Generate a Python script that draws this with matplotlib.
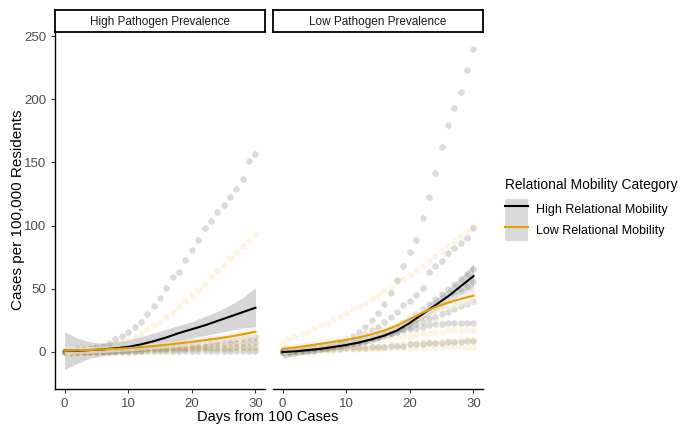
import matplotlib
matplotlib.use("Agg")
import matplotlib.pyplot as plt
from matplotlib.lines import Line2D
from matplotlib.patches import Patch
from matplotlib.legend_handler import HandlerTuple

plt.rcParams["font.family"] = ["Liberation Sans", "DejaVu Sans"]

DAYS = list(range(31))
SMOOTH_DAYS = list(range(0, 31, 2))

PANELS = ["High Pathogen Prevalence", "Low Pathogen Prevalence"]
CATEGORIES = ["High Relational Mobility", "Low Relational Mobility"]

# --- High pathogen panel, per-region cases per 100k ---
high_path_high_mob = [
    [1, 1, 2, 2, 3, 4, 5, 7, 10, 13, 16, 20, 24, 30, 36, 43, 51, 59, 63, 73, 81, 89, 98, 104, 111, 116, 123, 129, 137, 151, 157],
    [0, 0, 0, 1, 1, 1, 1, 2, 2, 2, 3, 3, 3, 4, 4, 5, 5, 6, 6, 7, 7, 8, 8, 9, 9, 10, 10, 11, 11, 12, 12],
    [0, 0, 0, 0, 1, 1, 1, 1, 1, 2, 2, 2, 2, 3, 3, 3, 3, 4, 4, 4, 5, 5, 5, 6, 6, 6, 7, 7, 7, 8, 8],
    [0, 0, 0, 0, 0, 0, 1, 1, 1, 1, 1, 1, 1, 2, 2, 2, 2, 2, 2, 2, 3, 3, 3, 3, 3, 3, 3, 4, 4, 4, 4],
    [0, 0, 0, 0, 0, 0, 0, 0, 0, 0, 0, 0, 1, 1, 1, 1, 1, 1, 1, 1, 1, 1, 1, 1, 1, 1, 1, 1, 1, 1, 1],
]
high_path_low_mob = [
    [0, 1, 1, 2, 2, 3, 4, 5, 6, 8, 10, 12, 15, 18, 21, 24, 28, 32, 36, 40, 44, 49, 54, 59, 64, 69, 74, 79, 84, 89, 93],
    [0, 0, 1, 1, 1, 1, 2, 2, 2, 3, 3, 4, 4, 5, 5, 6, 6, 7, 7, 8, 8, 9, 10, 10, 11, 12, 12, 13, 14, 14, 15],
    [0, 0, 0, 1, 1, 1, 1, 1, 2, 2, 2, 2, 3, 3, 3, 4, 4, 4, 5, 5, 5, 6, 6, 7, 7, 8, 8, 9, 9, 10, 10],
    [0, 0, 0, 0, 0, 1, 1, 1, 1, 1, 1, 2, 2, 2, 2, 2, 3, 3, 3, 3, 3, 4, 4, 4, 4, 5, 5, 5, 5, 6, 6],
    [0, 0, 0, 0, 0, 0, 0, 0, 0, 1, 1, 1, 1, 1, 1, 1, 1, 1, 1, 2, 2, 2, 2, 2, 2, 2, 2, 2, 2, 2, 2],
]

# --- Low pathogen panel ---
low_path_high_mob = [
    [0, 1, 1, 2, 2, 3, 4, 5, 6, 8, 10, 13, 16, 20, 25, 31, 38, 47, 57, 68, 79, 89, 106, 123, 142, 162, 180, 193, 206, 223, 240],
    [1, 1, 2, 2, 3, 3, 4, 5, 6, 7, 8, 10, 12, 14, 17, 20, 24, 28, 32, 37, 40, 45, 51, 63, 68, 72, 78, 82, 86, 90, 98],
    [0, 1, 1, 2, 2, 3, 3, 4, 5, 6, 7, 8, 9, 10, 12, 13, 15, 17, 19, 21, 24, 27, 30, 33, 36, 39, 42, 45, 48, 52, 55],
    [0, 0, 1, 1, 2, 2, 3, 3, 4, 5, 6, 7, 8, 9, 11, 13, 15, 17, 20, 23, 26, 30, 34, 38, 42, 46, 50, 54, 58, 62, 66],
    [1, 1, 2, 2, 3, 3, 4, 5, 5, 6, 7, 8, 9, 10, 11, 12, 14, 15, 17, 18, 20, 22, 24, 26, 28, 30, 32, 34, 36, 38, 40],
    [1, 1, 2, 2, 3, 3, 4, 5, 6, 7, 8, 9, 10, 11, 12, 13, 14, 15, 16, 17, 18, 19, 20, 21, 22, 22, 23, 23, 23, 23, 23],
    [0, 0, 1, 1, 1, 1, 2, 2, 2, 2, 3, 3, 3, 3, 4, 4, 4, 5, 5, 5, 6, 6, 6, 7, 7, 7, 8, 8, 8, 9, 9],
]
low_path_low_mob = [
    [8, 10, 12, 14, 16, 19, 21, 23, 26, 28, 31, 34, 36, 39, 42, 45, 48, 51, 55, 58, 61, 65, 68, 72, 76, 80, 84, 88, 92, 96, 100],
    [2, 3, 3, 4, 5, 5, 6, 7, 8, 9, 10, 11, 12, 13, 14, 16, 17, 19, 20, 22, 24, 26, 28, 30, 32, 34, 36, 39, 41, 44, 47],
    [1, 2, 2, 3, 3, 4, 4, 5, 5, 6, 7, 7, 8, 9, 9, 10, 11, 11, 12, 13, 13, 14, 15, 15, 16, 16, 17, 17, 17, 17, 17],
    [0, 1, 1, 1, 2, 2, 2, 3, 3, 3, 4, 4, 4, 5, 5, 5, 6, 6, 6, 7, 7, 7, 8, 8, 8, 9, 9, 9, 10, 10, 10],
    [0, 0, 0, 1, 1, 1, 1, 1, 1, 2, 2, 2, 2, 2, 2, 2, 3, 3, 3, 3, 3, 3, 3, 4, 4, 4, 4, 4, 4, 4, 4],
]

# --- loess fits (read at every second day) ---
hp_high_fit = [1, 1, 1.5, 2, 3, 4, 6, 8.5, 11.5, 15, 18, 21, 24.5, 28, 31.5, 35]
hp_high_lo = [-14, -9, -5, -3, -1.5, -1, 0.5, 2, 5, 8, 11, 13, 15, 17, 19, 20]
hp_high_hi = [16, 11, 8, 7, 8, 9.5, 12, 15, 18, 21, 24, 28, 32, 37, 43, 51]
hp_low_fit = [1, 1.3, 1.6, 2, 2.5, 3, 3.8, 4.7, 5.7, 6.8, 8, 9.3, 10.7, 12.2, 14, 16]
hp_low_lo = [-2.5, -1.5, -1, -0.5, 0.2, 0.8, 1.5, 2.3, 3.2, 4.2, 5.3, 6.5, 7.7, 9, 10.4, 12]
hp_low_hi = [4.5, 4, 4.2, 4.5, 4.8, 5.2, 6.1, 7.1, 8.2, 9.4, 10.7, 12.1, 13.7, 15.4, 17.6, 20]

lp_high_fit = [0, 0.5, 1.5, 2.5, 4, 5.5, 7.5, 10, 13, 17, 23, 30, 37, 44, 52, 60]
lp_high_lo = [-5, -3, -1.5, 0, 1.5, 3, 5, 7.5, 10.5, 14, 19.5, 26, 32, 38.5, 45, 50]
lp_high_hi = [5, 4, 4.5, 5, 6.5, 8, 10, 12.5, 15.5, 20, 26.5, 34, 42, 49.5, 59, 70]
lp_low_fit = [2.5, 3.5, 5, 6.5, 8, 9.5, 11.5, 14, 17, 21, 26, 31, 35.5, 39, 42, 44.5]
lp_low_lo = [-2, 0, 2, 3.5, 5, 6.5, 8.5, 11, 14, 18, 23, 27.5, 31.5, 34.5, 36.5, 38]
lp_low_hi = [7, 7, 8, 9.5, 11, 12.5, 14.5, 17, 20, 24, 29, 34.5, 39.5, 43.5, 47.5, 51]

COLORS = {"High Relational Mobility": "black", "Low Relational Mobility": "#E69F00"}
PT_COLORS = {"High Relational Mobility": ("#7f7f7f", 0.28), "Low Relational Mobility": ("#E69F00", 0.1)}

panels = [
    {
        "points": {CATEGORIES[0]: high_path_high_mob, CATEGORIES[1]: high_path_low_mob},
        "fits": {CATEGORIES[0]: (hp_high_fit, hp_high_lo, hp_high_hi),
                 CATEGORIES[1]: (hp_low_fit, hp_low_lo, hp_low_hi)},
    },
    {
        "points": {CATEGORIES[0]: low_path_high_mob, CATEGORIES[1]: low_path_low_mob},
        "fits": {CATEGORIES[0]: (lp_high_fit, lp_high_lo, lp_high_hi),
                 CATEGORIES[1]: (lp_low_fit, lp_low_lo, lp_low_hi)},
    },
]

W, H = 682, 428
fig = plt.figure(figsize=(W / 100, H / 100), dpi=100)

panel_left = [55, 273]
panel_w = 210
top, bottom = 32, 389

for i, (name, panel) in enumerate(zip(PANELS, panels)):
    ax = fig.add_axes([panel_left[i] / W, 1 - bottom / H, panel_w / W, (bottom - top) / H])

    # points
    for cat in CATEGORIES:
        col, alpha = PT_COLORS[cat]
        for series in panel["points"][cat]:
            ax.scatter(DAYS, series, s=22, color=col, alpha=alpha, linewidths=0, zorder=1)

    # ribbons then lines
    for cat in CATEGORIES:
        fit, lo, hi = panel["fits"][cat]
        ribbon = "#999999" if cat == CATEGORIES[0] else "#f2efe9"
        ralpha = 0.4 if cat == CATEGORIES[0] else 0.6
        ax.fill_between(SMOOTH_DAYS, lo, hi, color=ribbon, alpha=ralpha, linewidth=0, zorder=2)
    for cat in CATEGORIES:
        fit, lo, hi = panel["fits"][cat]
        ax.plot(SMOOTH_DAYS, fit, color=COLORS[cat], linewidth=1.5, zorder=3)

    ax.set_xlim(-1.5, 31.5)
    ax.set_ylim(-29.3, 253.2)
    ax.set_xticks([0, 10, 20, 30])
    ax.set_yticks([0, 50, 100, 150, 200, 250])
    ax.tick_params(colors="#333333", labelcolor="#4D4D4D", labelsize=9.5, length=3, width=0.8)
    for s in ["top", "right"]:
        ax.spines[s].set_visible(False)
    ax.spines["bottom"].set_linewidth(1.0)
    ax.spines["left"].set_linewidth(1.0)
    if i == 1:
        ax.spines["left"].set_visible(False)
        ax.tick_params(axis="y", left=False, labelleft=False)

    # facet strip
    sax = fig.add_axes([panel_left[i] / W, 1 - top / H, panel_w / W, 22 / H])
    sax.set_xticks([])
    sax.set_yticks([])
    for s in sax.spines.values():
        s.set_linewidth(1.3)
    sax.text(0.5, 0.45, name, ha="center", va="center", fontsize=8.5, color="#1a1a1a",
             transform=sax.transAxes)

fig.text(18 / W, 1 - 210 / H, "Cases per 100,000 Residents", rotation=90,
         ha="center", va="center", fontsize=11)
fig.text(268 / W, 1 - 417 / H, "Days from 100 Cases", ha="center", va="center", fontsize=10.5)

# legend: title as plain text, keys below it
fig.text(505 / W, 1 - 185 / H, "Relational Mobility Category", ha="left", va="center",
         fontsize=9.9)
handles = []
for cat in CATEGORIES:
    handles.append((Patch(facecolor="#d9d9d9", edgecolor="none"),
                    Line2D([], [], color=COLORS[cat], linewidth=1.5)))
leg = fig.legend(handles, CATEGORIES, loc="upper left", bbox_to_anchor=(505 / W, 1 - 199 / H),
                 handler_map={tuple: HandlerTuple(ndivide=1)}, frameon=False, fontsize=9,
                 handlelength=1.85, handleheight=2.2, labelspacing=0, handletextpad=0.6,
                 borderpad=0, borderaxespad=0)

fig.savefig("out.png", dpi=100)
